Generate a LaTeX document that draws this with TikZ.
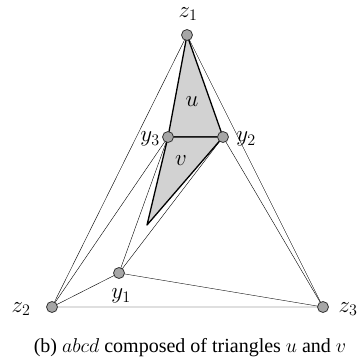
\RequirePackage{fix-cm}
\documentclass[tikz,border=0pt]{standalone}
\usepackage{fontspec}
\setmainfont{Liberation Serif}
\usetikzlibrary{calc, positioning, backgrounds}

\begin{document}
\begin{tikzpicture}[x=1pt, y=-1pt, font=\fontsize{20}{24}\selectfont, line width=1pt,
  vtx/.style={circle, fill=gray!70, draw=gray!40!black, line width=0.8pt, inner sep=0pt, minimum size=11pt},
  lbl/.style={font=\fontsize{23}{27}\selectfont, inner sep=0pt},
  tri/.style={fill=gray!35, draw=black, line width=1.3pt, line join=round}]
  \useasboundingbox (0,0) rectangle (364,362);

  \node[vtx] (z1) at (187, 35) {};
  \node[vtx] (z2) at (52, 307) {};
  \node[vtx] (z3) at (323, 307) {};
  \node[vtx] (y1) at (119, 273) {};
  \node[vtx] (y2) at (223, 137) {};
  \node[vtx] (y3) at (168, 137) {};
  \coordinate (tip) at (147, 225);

  \node[lbl] (lz1) at (188, 14) {$z_1$};
  \node[lbl] (lz2) at (21, 309) {$z_2$};
  \node[lbl] (lz3) at (348, 309) {$z_3$};
  \node[lbl] (ly1) at (121, 296) {$y_1$};
  \node[lbl] (ly2) at (246, 139) {$y_2$};
  \node[lbl] (ly3) at (150, 139) {$y_3$};
  \node[lbl] (lu) at (192, 102) {$u$};
  \node[lbl] (lv) at (181, 161) {$v$};

  \begin{scope}[on background layer]
    % shaded triangles u and v
    \draw[tri] (z1.center) -- (y3.center) -- (y2.center) -- cycle;
    \draw[tri] (y3.center) -- (tip) -- (y2.center) -- cycle;
    % outer triangle and inner edges
    \draw (z1.center) -- (z2.center) -- (z3.center) -- cycle;
    \draw (y3.center) -- (z2.center);
    \draw (y2.center) -- (z3.center);
    \draw (y3.center) -- (y1.center);
    \draw (y2.center) -- (y1.center);
    \draw (y1.center) -- (z2.center);
    \draw (y1.center) -- (z3.center);
  \end{scope}

  \node (cap) at (190, 348) {(b) $abcd$ composed of triangles $u$ and $v$};
\end{tikzpicture}
\end{document}
